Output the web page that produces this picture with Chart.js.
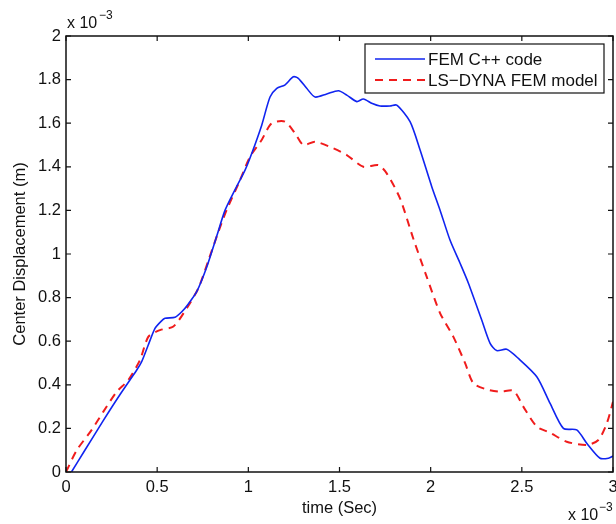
<!DOCTYPE html>
<html>
<head>
<meta charset="utf-8">
<script src="https://cdn.jsdelivr.net/npm/chart.js@4/dist/chart.umd.min.js"></script>
<style>
  html, body { margin: 0; padding: 0; background: #fff; }
  #wrap { width: 616px; height: 524px; }
</style>
</head>
<body>
<div id="wrap"><canvas id="c" width="616" height="524"></canvas></div>
<script>
// values in units of 1e-3 (time in s, displacement in m)
const femTime = [0.03, 0.1, 0.2, 0.3, 0.388, 0.415, 0.45, 0.488, 0.52, 0.543, 0.598, 0.635, 0.671, 0.717, 0.772, 0.826, 0.872, 0.93, 0.982, 1.018, 1.073, 1.119, 1.156, 1.2, 1.247, 1.274, 1.32, 1.366, 1.43, 1.494, 1.54, 1.595, 1.631, 1.68, 1.722, 1.777, 1.814, 1.887, 1.942, 2.006, 2.052, 2.106, 2.16, 2.207, 2.28, 2.326, 2.362, 2.417, 2.481, 2.582, 2.655, 2.728, 2.801, 2.856, 2.929, 2.975, 3.0];
const femDisp = [0, 0.095, 0.23, 0.36, 0.468, 0.506, 0.58, 0.659, 0.69, 0.705, 0.71, 0.735, 0.771, 0.827, 0.94, 1.08, 1.2, 1.3, 1.385, 1.46, 1.59, 1.72, 1.76, 1.775, 1.813, 1.806, 1.76, 1.72, 1.734, 1.749, 1.729, 1.699, 1.711, 1.69, 1.679, 1.679, 1.683, 1.607, 1.477, 1.309, 1.2, 1.064, 0.96, 0.866, 0.697, 0.59, 0.557, 0.563, 0.521, 0.437, 0.315, 0.2, 0.193, 0.132, 0.063, 0.063, 0.073];

const dynaTime = [0, 0.059, 0.141, 0.205, 0.278, 0.342, 0.406, 0.452, 0.516, 0.589, 0.662, 0.726, 0.781, 0.836, 0.881, 0.95, 1.009, 1.073, 1.128, 1.201, 1.256, 1.302, 1.366, 1.466, 1.54, 1.631, 1.713, 1.759, 1.832, 1.905, 1.978, 2.052, 2.124, 2.189, 2.234, 2.307, 2.381, 2.454, 2.508, 2.582, 2.655, 2.746, 2.856, 2.92, 2.966, 3.0];
const dynaDisp = [0, 0.1, 0.193, 0.277, 0.368, 0.422, 0.514, 0.621, 0.651, 0.667, 0.751, 0.843, 0.97, 1.102, 1.202, 1.33, 1.446, 1.523, 1.6, 1.607, 1.554, 1.5, 1.515, 1.485, 1.454, 1.4, 1.408, 1.37, 1.255, 1.07, 0.896, 0.728, 0.621, 0.499, 0.407, 0.379, 0.368, 0.373, 0.3, 0.208, 0.18, 0.139, 0.124, 0.147, 0.223, 0.322];

const xTicks = [0, 0.5, 1, 1.5, 2, 2.5, 3];
const yTicks = [0, 0.2, 0.4, 0.6, 0.8, 1, 1.2, 1.4, 1.6, 1.8, 2];
const seriesNames = ["FEM C++ code", "LS\u2212DYNA FEM model"];

const FONT = "'Liberation Sans', Arial, sans-serif";

const toPts = (xs, ys) => xs.map((x, i) => ({ x: x, y: ys[i] }));

// frame, inward ticks on all four sides, exponent labels and boxed legend
const matlabLook = {
  id: "matlabLook",
  afterDraw(chart) {
    const ctx = chart.ctx;
    const a = chart.chartArea;
    const xs = chart.scales.x, ys = chart.scales.y;
    ctx.save();
    ctx.strokeStyle = "#111";
    ctx.lineWidth = 1.5;
    ctx.strokeRect(a.left, a.top, a.right - a.left, a.bottom - a.top);
    ctx.lineWidth = 1.2;
    ctx.beginPath();
    xTicks.forEach(v => {
      const px = xs.getPixelForValue(v);
      ctx.moveTo(px, a.bottom); ctx.lineTo(px, a.bottom - 5);
      ctx.moveTo(px, a.top); ctx.lineTo(px, a.top + 5);
    });
    yTicks.forEach(v => {
      const py = ys.getPixelForValue(v);
      ctx.moveTo(a.left, py); ctx.lineTo(a.left + 5, py);
      ctx.moveTo(a.right, py); ctx.lineTo(a.right - 5, py);
    });
    ctx.stroke();

    // x 10^-3 labels
    ctx.fillStyle = "#111";
    ctx.textBaseline = "alphabetic";
    ctx.textAlign = "left";
    ctx.font = "16px " + FONT;
    ctx.fillText("x 10", 67, 28);
    ctx.font = "12px " + FONT;
    ctx.fillText("\u22123", 99, 19);
    ctx.font = "16px " + FONT;
    ctx.fillText("x 10", 568, 520);
    ctx.font = "12px " + FONT;
    ctx.fillText("\u22123", 599, 511);

    // legend
    const lx = 365, ly = 44, lw = 239, lh = 49;
    ctx.fillStyle = "#fff";
    ctx.fillRect(lx, ly, lw, lh);
    ctx.strokeStyle = "#111";
    ctx.lineWidth = 1.2;
    ctx.strokeRect(lx, ly, lw, lh);
    chart.data.datasets.forEach((ds, i) => {
      const y = 59 + i * 21;
      ctx.strokeStyle = ds.borderColor;
      ctx.lineWidth = ds.borderWidth;
      ctx.setLineDash(ds.borderDash || []);
      ctx.beginPath();
      ctx.moveTo(375, y); ctx.lineTo(425, y);
      ctx.stroke();
      ctx.setLineDash([]);
      ctx.fillStyle = "#111";
      ctx.font = "17px " + FONT;
      ctx.textBaseline = "middle";
      ctx.fillText(ds.label, 428, y + 1);
    });
    ctx.restore();
  }
};

new Chart(document.getElementById("c"), {
  type: "line",
  data: {
    datasets: [
      {
        label: seriesNames[0],
        data: toPts(femTime, femDisp),
        borderColor: "#1024f0",
        borderWidth: 1.6,
        pointRadius: 0,
        tension: 0.25,
        fill: false
      },
      {
        label: seriesNames[1],
        data: toPts(dynaTime, dynaDisp),
        borderColor: "#f01c1c",
        borderWidth: 2,
        borderDash: [8, 6],
        pointRadius: 0,
        tension: 0.25,
        fill: false
      }
    ]
  },
  options: {
    responsive: false,
    animation: false,
    layout: { padding: { top: 36, right: 3, left: 0, bottom: 0 } },
    plugins: {
      legend: { display: false },
      tooltip: { enabled: false }
    },
    scales: {
      x: {
        type: "linear",
        min: 0, max: 3,
        afterFit: s => { s.height = 52; s.paddingLeft = 0; s.paddingRight = 0; },
        afterBuildTicks: s => { s.ticks = xTicks.map(v => ({ value: v })); },
        grid: { display: false, drawTicks: false },
        border: { display: false },
        ticks: {
          color: "#111",
          padding: 6,
          maxRotation: 0,
          font: { family: FONT, size: 16.5 },
          callback: v => String(v)
        },
        title: {
          display: true,
          text: "time (Sec)",
          color: "#111",
          font: { family: FONT, size: 16.5 },
          padding: { top: 0, bottom: 6 }
        }
      },
      y: {
        min: 0, max: 2,
        afterFit: s => { s.width = 66; s.paddingTop = 0; s.paddingBottom = 0; },
        afterBuildTicks: s => { s.ticks = yTicks.map(v => ({ value: v })); },
        grid: { display: false, drawTicks: false },
        border: { display: false },
        ticks: {
          color: "#111",
          padding: 5,
          font: { family: FONT, size: 16.5 },
          callback: v => String(v)
        },
        title: {
          display: true,
          text: "Center Displacement (m)",
          color: "#111",
          font: { family: FONT, size: 16.5 },
          padding: { top: 11, bottom: 0 }
        }
      }
    }
  },
  plugins: [matlabLook]
});
</script>
</body>
</html>
